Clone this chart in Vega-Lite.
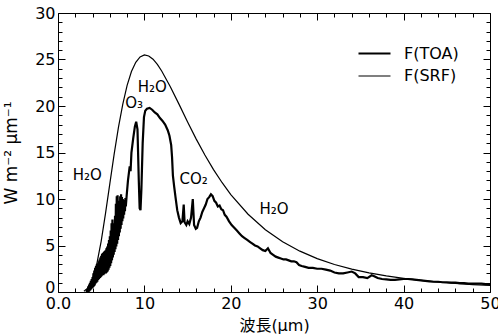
{
  "$schema": "https://vega.github.io/schema/vega-lite/v6.json",
  "width": 432,
  "height": 279,
  "autosize": "none",
  "padding": {"left": 58, "top": 13, "right": 8, "bottom": 43},
  "config": {
    "view": {"stroke": "black", "strokeWidth": 1},
    "font": "DejaVu Sans",
    "axis": {
      "grid": false,
      "domain": false,
      "tickColor": "black",
      "labelColor": "black",
      "titleColor": "black",
      "labelFont": "DejaVu Sans",
      "titleFont": "DejaVu Sans, Noto Sans CJK JP",
      "labelFontSize": 16,
      "titleFontSize": 16,
      "titleFontWeight": "normal",
      "labelOverlap": false,
      "labelFlush": false
    }
  },
  "datasets": {
    "curves": [
      {"s": "F(SRF)", "w": 3.0, "f": 0.09},
      {"s": "F(SRF)", "w": 3.5, "f": 0.45},
      {"s": "F(SRF)", "w": 4.0, "f": 1.38},
      {"s": "F(SRF)", "w": 4.5, "f": 3.06},
      {"s": "F(SRF)", "w": 5.0, "f": 5.48},
      {"s": "F(SRF)", "w": 5.5, "f": 8.45},
      {"s": "F(SRF)", "w": 6.0, "f": 11.65},
      {"s": "F(SRF)", "w": 6.5, "f": 14.82},
      {"s": "F(SRF)", "w": 7.0, "f": 17.72},
      {"s": "F(SRF)", "w": 7.5, "f": 20.21},
      {"s": "F(SRF)", "w": 8.0, "f": 22.21},
      {"s": "F(SRF)", "w": 8.5, "f": 23.71},
      {"s": "F(SRF)", "w": 9.0, "f": 24.70},
      {"s": "F(SRF)", "w": 9.5, "f": 25.28},
      {"s": "F(SRF)", "w": 10.0, "f": 25.49},
      {"s": "F(SRF)", "w": 10.5, "f": 25.38},
      {"s": "F(SRF)", "w": 11.0, "f": 25.03},
      {"s": "F(SRF)", "w": 11.5, "f": 24.47},
      {"s": "F(SRF)", "w": 12.0, "f": 23.76},
      {"s": "F(SRF)", "w": 13.0, "f": 22.07},
      {"s": "F(SRF)", "w": 14.0, "f": 20.20},
      {"s": "F(SRF)", "w": 15.0, "f": 18.28},
      {"s": "F(SRF)", "w": 16.0, "f": 16.44},
      {"s": "F(SRF)", "w": 17.0, "f": 14.73},
      {"s": "F(SRF)", "w": 18.0, "f": 13.16},
      {"s": "F(SRF)", "w": 19.0, "f": 11.75},
      {"s": "F(SRF)", "w": 20.0, "f": 10.48},
      {"s": "F(SRF)", "w": 22.0, "f": 8.36},
      {"s": "F(SRF)", "w": 24.0, "f": 6.70},
      {"s": "F(SRF)", "w": 26.0, "f": 5.40},
      {"s": "F(SRF)", "w": 28.0, "f": 4.39},
      {"s": "F(SRF)", "w": 30.0, "f": 3.59},
      {"s": "F(SRF)", "w": 32.0, "f": 2.96},
      {"s": "F(SRF)", "w": 34.0, "f": 2.46},
      {"s": "F(SRF)", "w": 36.0, "f": 2.06},
      {"s": "F(SRF)", "w": 38.0, "f": 1.73},
      {"s": "F(SRF)", "w": 40.0, "f": 1.47},
      {"s": "F(SRF)", "w": 42.0, "f": 1.25},
      {"s": "F(SRF)", "w": 44.0, "f": 1.07},
      {"s": "F(SRF)", "w": 46.0, "f": 0.93},
      {"s": "F(SRF)", "w": 48.0, "f": 0.80},
      {"s": "F(SRF)", "w": 50.0, "f": 0.70},
      {"s": "F(TOA)", "w": 3.3, "f": 0.0},
      {"s": "F(TOA)", "w": 3.4, "f": 0.3},
      {"s": "F(TOA)", "w": 3.45, "f": 0.0},
      {"s": "F(TOA)", "w": 3.5, "f": 0.6},
      {"s": "F(TOA)", "w": 3.55, "f": 0.0},
      {"s": "F(TOA)", "w": 3.6, "f": 0.8},
      {"s": "F(TOA)", "w": 3.65, "f": 0.1},
      {"s": "F(TOA)", "w": 3.7, "f": 1.0},
      {"s": "F(TOA)", "w": 3.75, "f": 0.2},
      {"s": "F(TOA)", "w": 3.8, "f": 1.2},
      {"s": "F(TOA)", "w": 3.85, "f": 0.3},
      {"s": "F(TOA)", "w": 3.9, "f": 1.4},
      {"s": "F(TOA)", "w": 3.95, "f": 0.4},
      {"s": "F(TOA)", "w": 4.0, "f": 1.6},
      {"s": "F(TOA)", "w": 4.05, "f": 0.5},
      {"s": "F(TOA)", "w": 4.1, "f": 2.0},
      {"s": "F(TOA)", "w": 4.15, "f": 0.6},
      {"s": "F(TOA)", "w": 4.2, "f": 2.3},
      {"s": "F(TOA)", "w": 4.25, "f": 0.7},
      {"s": "F(TOA)", "w": 4.3, "f": 2.6},
      {"s": "F(TOA)", "w": 4.35, "f": 0.9},
      {"s": "F(TOA)", "w": 4.4, "f": 2.8},
      {"s": "F(TOA)", "w": 4.45, "f": 1.0},
      {"s": "F(TOA)", "w": 4.5, "f": 3.0},
      {"s": "F(TOA)", "w": 4.55, "f": 1.1},
      {"s": "F(TOA)", "w": 4.6, "f": 3.1},
      {"s": "F(TOA)", "w": 4.65, "f": 1.3},
      {"s": "F(TOA)", "w": 4.7, "f": 3.3},
      {"s": "F(TOA)", "w": 4.75, "f": 1.4},
      {"s": "F(TOA)", "w": 4.8, "f": 3.5},
      {"s": "F(TOA)", "w": 4.85, "f": 1.5},
      {"s": "F(TOA)", "w": 4.9, "f": 3.7},
      {"s": "F(TOA)", "w": 4.95, "f": 1.6},
      {"s": "F(TOA)", "w": 5.0, "f": 3.9},
      {"s": "F(TOA)", "w": 5.05, "f": 1.7},
      {"s": "F(TOA)", "w": 5.1, "f": 4.1},
      {"s": "F(TOA)", "w": 5.15, "f": 1.8},
      {"s": "F(TOA)", "w": 5.2, "f": 4.2},
      {"s": "F(TOA)", "w": 5.25, "f": 1.8},
      {"s": "F(TOA)", "w": 5.3, "f": 4.3},
      {"s": "F(TOA)", "w": 5.35, "f": 1.9},
      {"s": "F(TOA)", "w": 5.4, "f": 4.4},
      {"s": "F(TOA)", "w": 5.45, "f": 2.0},
      {"s": "F(TOA)", "w": 5.5, "f": 4.5},
      {"s": "F(TOA)", "w": 5.55, "f": 2.0},
      {"s": "F(TOA)", "w": 5.6, "f": 4.7},
      {"s": "F(TOA)", "w": 5.65, "f": 2.1},
      {"s": "F(TOA)", "w": 5.7, "f": 4.9},
      {"s": "F(TOA)", "w": 5.75, "f": 2.2},
      {"s": "F(TOA)", "w": 5.8, "f": 5.2},
      {"s": "F(TOA)", "w": 5.85, "f": 2.4},
      {"s": "F(TOA)", "w": 5.9, "f": 5.6},
      {"s": "F(TOA)", "w": 5.95, "f": 2.6},
      {"s": "F(TOA)", "w": 6.0, "f": 6.0},
      {"s": "F(TOA)", "w": 6.05, "f": 2.8},
      {"s": "F(TOA)", "w": 6.1, "f": 6.6},
      {"s": "F(TOA)", "w": 6.15, "f": 3.1},
      {"s": "F(TOA)", "w": 6.2, "f": 7.4},
      {"s": "F(TOA)", "w": 6.25, "f": 3.4},
      {"s": "F(TOA)", "w": 6.3, "f": 7.8},
      {"s": "F(TOA)", "w": 6.35, "f": 3.7},
      {"s": "F(TOA)", "w": 6.4, "f": 7.4},
      {"s": "F(TOA)", "w": 6.45, "f": 4.0},
      {"s": "F(TOA)", "w": 6.5, "f": 7.2},
      {"s": "F(TOA)", "w": 6.55, "f": 4.3},
      {"s": "F(TOA)", "w": 6.6, "f": 8.2},
      {"s": "F(TOA)", "w": 6.65, "f": 4.6},
      {"s": "F(TOA)", "w": 6.7, "f": 9.5},
      {"s": "F(TOA)", "w": 6.75, "f": 4.9},
      {"s": "F(TOA)", "w": 6.8, "f": 10.3},
      {"s": "F(TOA)", "w": 6.85, "f": 5.2},
      {"s": "F(TOA)", "w": 6.9, "f": 10.4},
      {"s": "F(TOA)", "w": 6.95, "f": 5.6},
      {"s": "F(TOA)", "w": 7.0, "f": 9.8},
      {"s": "F(TOA)", "w": 7.05, "f": 6.0},
      {"s": "F(TOA)", "w": 7.1, "f": 9.6},
      {"s": "F(TOA)", "w": 7.15, "f": 6.4},
      {"s": "F(TOA)", "w": 7.2, "f": 10.3},
      {"s": "F(TOA)", "w": 7.25, "f": 6.8},
      {"s": "F(TOA)", "w": 7.3, "f": 10.5},
      {"s": "F(TOA)", "w": 7.35, "f": 7.2},
      {"s": "F(TOA)", "w": 7.4, "f": 10.2},
      {"s": "F(TOA)", "w": 7.45, "f": 7.6},
      {"s": "F(TOA)", "w": 7.5, "f": 10.0},
      {"s": "F(TOA)", "w": 7.55, "f": 7.9},
      {"s": "F(TOA)", "w": 7.6, "f": 9.8},
      {"s": "F(TOA)", "w": 7.65, "f": 8.3},
      {"s": "F(TOA)", "w": 7.7, "f": 9.9},
      {"s": "F(TOA)", "w": 7.75, "f": 8.7},
      {"s": "F(TOA)", "w": 7.8, "f": 10.1},
      {"s": "F(TOA)", "w": 7.85, "f": 9.2},
      {"s": "F(TOA)", "w": 7.95, "f": 10.4},
      {"s": "F(TOA)", "w": 8.1, "f": 12.0},
      {"s": "F(TOA)", "w": 8.3, "f": 13.5},
      {"s": "F(TOA)", "w": 8.4, "f": 13.0},
      {"s": "F(TOA)", "w": 8.5, "f": 15.0},
      {"s": "F(TOA)", "w": 8.7, "f": 16.5},
      {"s": "F(TOA)", "w": 8.9, "f": 17.8},
      {"s": "F(TOA)", "w": 9.05, "f": 18.3},
      {"s": "F(TOA)", "w": 9.2, "f": 17.5},
      {"s": "F(TOA)", "w": 9.35, "f": 12.0},
      {"s": "F(TOA)", "w": 9.45, "f": 9.0},
      {"s": "F(TOA)", "w": 9.55, "f": 8.8},
      {"s": "F(TOA)", "w": 9.65, "f": 11.0},
      {"s": "F(TOA)", "w": 9.8, "f": 16.0},
      {"s": "F(TOA)", "w": 9.95, "f": 18.8},
      {"s": "F(TOA)", "w": 10.1, "f": 19.5},
      {"s": "F(TOA)", "w": 10.3, "f": 19.7},
      {"s": "F(TOA)", "w": 10.6, "f": 19.8},
      {"s": "F(TOA)", "w": 10.9, "f": 19.6},
      {"s": "F(TOA)", "w": 11.2, "f": 19.3},
      {"s": "F(TOA)", "w": 11.5, "f": 19.1},
      {"s": "F(TOA)", "w": 11.8, "f": 18.7},
      {"s": "F(TOA)", "w": 12.1, "f": 18.4},
      {"s": "F(TOA)", "w": 12.4, "f": 18.0},
      {"s": "F(TOA)", "w": 12.7, "f": 17.4},
      {"s": "F(TOA)", "w": 12.9, "f": 16.8},
      {"s": "F(TOA)", "w": 13.1, "f": 15.8},
      {"s": "F(TOA)", "w": 13.2, "f": 14.5},
      {"s": "F(TOA)", "w": 13.3, "f": 12.5},
      {"s": "F(TOA)", "w": 13.45, "f": 11.3},
      {"s": "F(TOA)", "w": 13.6, "f": 10.2},
      {"s": "F(TOA)", "w": 13.8, "f": 8.8},
      {"s": "F(TOA)", "w": 14.0, "f": 8.0},
      {"s": "F(TOA)", "w": 14.2, "f": 7.4},
      {"s": "F(TOA)", "w": 14.4, "f": 7.6},
      {"s": "F(TOA)", "w": 14.55, "f": 9.4},
      {"s": "F(TOA)", "w": 14.65, "f": 7.5},
      {"s": "F(TOA)", "w": 14.85, "f": 7.2},
      {"s": "F(TOA)", "w": 15.0, "f": 7.6},
      {"s": "F(TOA)", "w": 15.2, "f": 7.3},
      {"s": "F(TOA)", "w": 15.4, "f": 8.0},
      {"s": "F(TOA)", "w": 15.6, "f": 10.0},
      {"s": "F(TOA)", "w": 15.75, "f": 7.2},
      {"s": "F(TOA)", "w": 15.95, "f": 6.8},
      {"s": "F(TOA)", "w": 16.1, "f": 6.9},
      {"s": "F(TOA)", "w": 16.3, "f": 7.6},
      {"s": "F(TOA)", "w": 16.5, "f": 8.0},
      {"s": "F(TOA)", "w": 16.7, "f": 8.6},
      {"s": "F(TOA)", "w": 16.9, "f": 9.0},
      {"s": "F(TOA)", "w": 17.1, "f": 9.4},
      {"s": "F(TOA)", "w": 17.3, "f": 10.0},
      {"s": "F(TOA)", "w": 17.5, "f": 10.2},
      {"s": "F(TOA)", "w": 17.7, "f": 10.5},
      {"s": "F(TOA)", "w": 17.9, "f": 10.3},
      {"s": "F(TOA)", "w": 18.1, "f": 9.8},
      {"s": "F(TOA)", "w": 18.3, "f": 9.6},
      {"s": "F(TOA)", "w": 18.5, "f": 9.2},
      {"s": "F(TOA)", "w": 18.7, "f": 9.3},
      {"s": "F(TOA)", "w": 18.9, "f": 8.9},
      {"s": "F(TOA)", "w": 19.1, "f": 8.8},
      {"s": "F(TOA)", "w": 19.3, "f": 8.3},
      {"s": "F(TOA)", "w": 19.5, "f": 8.1},
      {"s": "F(TOA)", "w": 19.8, "f": 7.6},
      {"s": "F(TOA)", "w": 20.1, "f": 7.2},
      {"s": "F(TOA)", "w": 20.4, "f": 6.9},
      {"s": "F(TOA)", "w": 20.7, "f": 6.6},
      {"s": "F(TOA)", "w": 21.0, "f": 6.3},
      {"s": "F(TOA)", "w": 21.3, "f": 6.0},
      {"s": "F(TOA)", "w": 21.6, "f": 5.8},
      {"s": "F(TOA)", "w": 21.9, "f": 5.6},
      {"s": "F(TOA)", "w": 22.2, "f": 5.4},
      {"s": "F(TOA)", "w": 22.5, "f": 5.2},
      {"s": "F(TOA)", "w": 22.8, "f": 5.0},
      {"s": "F(TOA)", "w": 23.1, "f": 4.9},
      {"s": "F(TOA)", "w": 23.4, "f": 4.7},
      {"s": "F(TOA)", "w": 23.7, "f": 4.5},
      {"s": "F(TOA)", "w": 24.0, "f": 4.4},
      {"s": "F(TOA)", "w": 24.3, "f": 4.7},
      {"s": "F(TOA)", "w": 24.6, "f": 4.2},
      {"s": "F(TOA)", "w": 24.9, "f": 4.0},
      {"s": "F(TOA)", "w": 25.2, "f": 3.8},
      {"s": "F(TOA)", "w": 25.5, "f": 3.7},
      {"s": "F(TOA)", "w": 25.8, "f": 3.6},
      {"s": "F(TOA)", "w": 26.1, "f": 3.5},
      {"s": "F(TOA)", "w": 26.4, "f": 3.5},
      {"s": "F(TOA)", "w": 26.7, "f": 3.4},
      {"s": "F(TOA)", "w": 27.0, "f": 3.3},
      {"s": "F(TOA)", "w": 27.3, "f": 3.3},
      {"s": "F(TOA)", "w": 27.6, "f": 3.2},
      {"s": "F(TOA)", "w": 27.9, "f": 2.9},
      {"s": "F(TOA)", "w": 28.2, "f": 2.8},
      {"s": "F(TOA)", "w": 28.6, "f": 2.7},
      {"s": "F(TOA)", "w": 29.0, "f": 2.6},
      {"s": "F(TOA)", "w": 29.5, "f": 2.6},
      {"s": "F(TOA)", "w": 30.0, "f": 2.5},
      {"s": "F(TOA)", "w": 30.5, "f": 2.5},
      {"s": "F(TOA)", "w": 31.0, "f": 2.4},
      {"s": "F(TOA)", "w": 31.5, "f": 2.3},
      {"s": "F(TOA)", "w": 32.0, "f": 2.1},
      {"s": "F(TOA)", "w": 32.5, "f": 2.0},
      {"s": "F(TOA)", "w": 33.0, "f": 2.0},
      {"s": "F(TOA)", "w": 33.5, "f": 2.1},
      {"s": "F(TOA)", "w": 34.0, "f": 2.2},
      {"s": "F(TOA)", "w": 34.4, "f": 2.0},
      {"s": "F(TOA)", "w": 34.8, "f": 1.6},
      {"s": "F(TOA)", "w": 35.3, "f": 1.6},
      {"s": "F(TOA)", "w": 35.8, "f": 1.5},
      {"s": "F(TOA)", "w": 36.3, "f": 1.8},
      {"s": "F(TOA)", "w": 36.6, "f": 1.7},
      {"s": "F(TOA)", "w": 37.0, "f": 1.5},
      {"s": "F(TOA)", "w": 37.5, "f": 1.4},
      {"s": "F(TOA)", "w": 38.0, "f": 1.35},
      {"s": "F(TOA)", "w": 38.5, "f": 1.3},
      {"s": "F(TOA)", "w": 39.0, "f": 1.3},
      {"s": "F(TOA)", "w": 39.5, "f": 1.35},
      {"s": "F(TOA)", "w": 40.0, "f": 1.4},
      {"s": "F(TOA)", "w": 40.5, "f": 1.4},
      {"s": "F(TOA)", "w": 41.0, "f": 1.35},
      {"s": "F(TOA)", "w": 41.5, "f": 1.3},
      {"s": "F(TOA)", "w": 42.0, "f": 1.25},
      {"s": "F(TOA)", "w": 42.5, "f": 1.2},
      {"s": "F(TOA)", "w": 43.0, "f": 1.15},
      {"s": "F(TOA)", "w": 43.5, "f": 1.1},
      {"s": "F(TOA)", "w": 44.0, "f": 1.1},
      {"s": "F(TOA)", "w": 44.5, "f": 1.05},
      {"s": "F(TOA)", "w": 45.0, "f": 1.05},
      {"s": "F(TOA)", "w": 45.5, "f": 1.0},
      {"s": "F(TOA)", "w": 46.0, "f": 1.0},
      {"s": "F(TOA)", "w": 46.5, "f": 0.95},
      {"s": "F(TOA)", "w": 47.0, "f": 0.95},
      {"s": "F(TOA)", "w": 47.5, "f": 0.9},
      {"s": "F(TOA)", "w": 48.0, "f": 0.9},
      {"s": "F(TOA)", "w": 48.5, "f": 0.9},
      {"s": "F(TOA)", "w": 49.0, "f": 0.9},
      {"s": "F(TOA)", "w": 49.5, "f": 0.85},
      {"s": "F(TOA)", "w": 50.0, "f": 0.85}
    ],
    "notes": [
      {"w": 3.4, "f": 12.6, "t": "H₂O"},
      {"w": 8.8, "f": 20.3, "t": "O₃"},
      {"w": 10.9, "f": 22.0, "t": "H₂O"},
      {"w": 15.7, "f": 12.1, "t": "CO₂"},
      {"w": 25.0, "f": 8.9, "t": "H₂O"}
    ]
  },
  "layer": [
    {
      "data": {"name": "curves"},
      "mark": {"type": "line", "clip": true},
      "encoding": {
        "x": {
          "field": "w", "type": "quantitative",
          "scale": {"domain": [0, 50], "nice": false, "zero": false},
          "axis": {
            "orient": "bottom",
            "title": "波長(μm)",
            "values": [0,2,4,6,8,10,12,14,16,18,20,22,24,26,28,30,32,34,36,38,40,42,44,46,48,50],
            "labelExpr": "datum.value === 0 ? '0.0' : (datum.value % 10 === 0 ? datum.label : '')",
            "tickSize": {"condition": {"test": "datum.value % 10 === 0", "value": -7}, "value": -4},
            "labelPadding": 10,
            "titleY": 33,
            "titleBaseline": "middle"
          }
        },
        "y": {
          "field": "f", "type": "quantitative",
          "scale": {"domain": [0, 30], "nice": false},
          "axis": {
            "orient": "left",
            "title": "W m⁻² μm⁻¹",
            "titleFontSize": 17,
            "values": [0,1,2,3,4,5,6,7,8,9,10,11,12,13,14,15,16,17,18,19,20,21,22,23,24,25,26,27,28,29,30],
            "labelExpr": "datum.value % 5 === 0 ? datum.label : ''",
            "labelBaseline": {"condition": {"test": "datum.value === 0", "value": "alphabetic"}, "value": "middle"},
            "tickSize": {"condition": {"test": "datum.value % 5 === 0", "value": -7}, "value": -4},
            "labelPadding": 10,
            "titleX": -47,
            "titleY": 139.5,
            "titleAngle": -90,
            "titleAlign": "center",
            "titleBaseline": "middle"
          }
        },
        "color": {
          "field": "s", "type": "nominal",
          "scale": {"domain": ["F(TOA)", "F(SRF)"], "range": ["black", "black"]},
          "legend": {
            "title": null,
            "orient": "none",
            "legendX": 307,
            "legendY": 31,
            "padding": 0,
            "symbolType": "M-2,0H2",
            "symbolSize": 256,
            "labelOffset": 20,
            "rowPadding": 5,
            "labelFont": "DejaVu Sans",
            "labelFontSize": 16,
            "labelColor": "black"
          }
        },
        "strokeWidth": {
          "field": "s", "type": "nominal",
          "scale": {"domain": ["F(TOA)", "F(SRF)"], "range": [2.2, 1.2]},
          "legend": {
            "title": null,
            "orient": "none",
            "legendX": 307,
            "legendY": 31,
            "padding": 0,
            "symbolType": "M-2,0H2",
            "symbolSize": 256,
            "labelOffset": 20,
            "rowPadding": 5,
            "labelFont": "DejaVu Sans",
            "labelFontSize": 16,
            "labelColor": "black"
          }
        }
      }
    },
    {
      "data": {"name": "curves"},
      "mark": {"type": "line", "opacity": 0},
      "encoding": {
        "x": {
          "field": "w", "type": "quantitative",
          "axis": {
            "orient": "top",
            "title": null,
            "labels": false,
            "values": [0,2,4,6,8,10,12,14,16,18,20,22,24,26,28,30,32,34,36,38,40,42,44,46,48,50],
            "tickSize": {"condition": {"test": "datum.value % 10 === 0", "value": -7}, "value": -4}
          }
        },
        "y": {
          "field": "f", "type": "quantitative",
          "axis": {
            "orient": "right",
            "title": null,
            "labels": false,
            "values": [0,1,2,3,4,5,6,7,8,9,10,11,12,13,14,15,16,17,18,19,20,21,22,23,24,25,26,27,28,29,30],
            "tickSize": {"condition": {"test": "datum.value % 5 === 0", "value": -7}, "value": -4}
          }
        },
        "detail": {"field": "s", "type": "nominal"}
      }
    },
    {
      "data": {"name": "notes"},
      "mark": {"type": "text", "font": "DejaVu Sans", "fontSize": 15, "color": "black", "align": "center", "baseline": "middle"},
      "encoding": {
        "x": {"field": "w", "type": "quantitative", "axis": null},
        "y": {"field": "f", "type": "quantitative", "axis": null},
        "text": {"field": "t", "type": "nominal"}
      }
    }
  ],
  "resolve": {"axis": {"x": "independent", "y": "independent"}}
}
